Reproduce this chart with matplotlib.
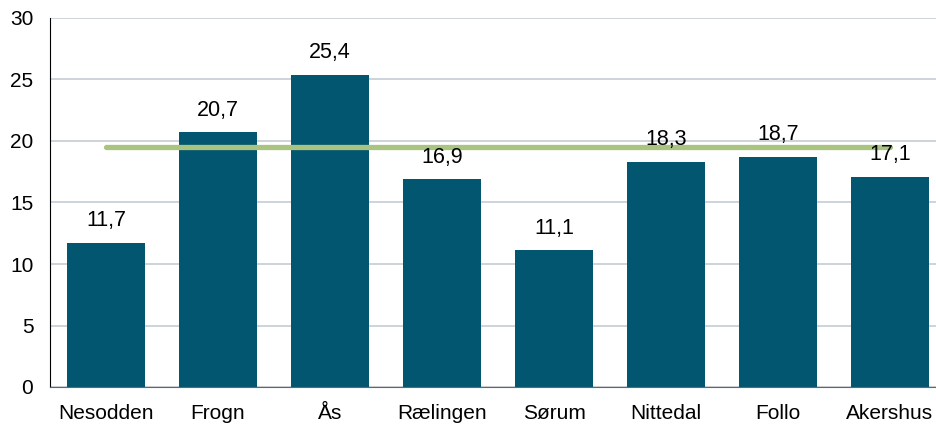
import numpy as np
import matplotlib.pyplot as plt

plt.rcParams['font.family'] = ['Liberation Sans', 'DejaVu Sans']

# data
kommuner = ['Nesodden', 'Frogn', 'Ås', 'Rælingen', 'Sørum', 'Nittedal', 'Follo', 'Akershus']
verdier = [11.7, 20.7, 25.4, 16.9, 11.1, 18.3, 18.7, 17.1]
landet = [19.5] * len(kommuner)

fig = plt.figure(figsize=(9.37, 4.25), dpi=100)
ax = fig.add_axes([50 / 937, 38 / 425, 896 / 937, 369 / 425])

x = np.arange(len(kommuner))
ax.bar(x, verdier, width=0.7, color='#03566F', zorder=2)
ax.plot(x, landet, color='#A9C47F', linewidth=3.8, solid_capstyle='round', zorder=3)

for xi, v in zip(x, verdier):
    ax.text(xi, v + 1.35, f'{v:.1f}'.replace('.', ','), ha='center', va='baseline',
            fontsize=15.5)

ax.set_xlim(-0.5, 7.5)
ax.set_ylim(0, 30)
ax.set_yticks(range(0, 31, 5))
ax.set_xticks(x)
ax.set_xticklabels(kommuner)
ax.tick_params(axis='both', length=0, labelsize=15)
ax.tick_params(axis='x', pad=12)
ax.tick_params(axis='y', pad=12)
ax.yaxis.grid(True, color='#C3CCD6', linewidth=1.2, zorder=0)
ax.set_axisbelow(True)

for s in ['top', 'right']:
    ax.spines[s].set_visible(False)
ax.spines['left'].set_color('black')
ax.spines['bottom'].set_color('#666666')

fig.savefig('out.png', dpi=100)
